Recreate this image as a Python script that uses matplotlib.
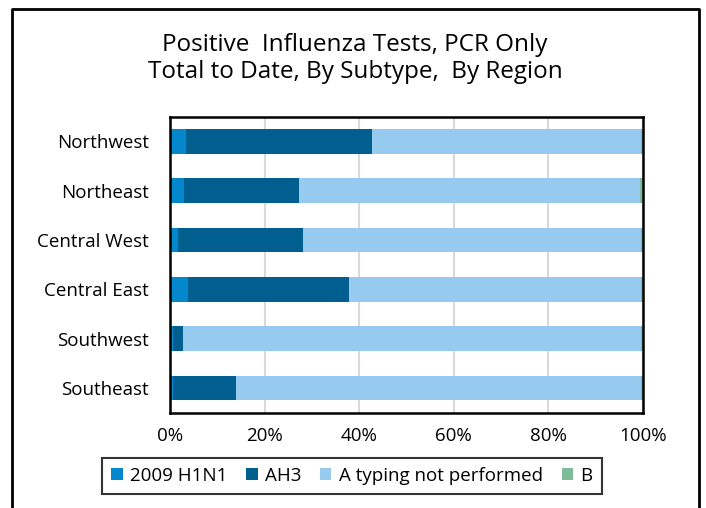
import matplotlib.pyplot as plt
import numpy as np
from matplotlib.lines import Line2D

# --- data (percent of positive PCR tests) ---
regions = ["Northwest", "Northeast", "Central West", "Central East", "Southwest", "Southeast"]
h1n1 = [3.3, 2.9, 1.6, 3.7, 0.6, 0.6]
ah3 = [39.4, 24.3, 26.5, 34.2, 2.2, 13.4]
a_not_typed = [56.9, 72.2, 71.5, 61.7, 96.8, 85.6]
b = [0.4, 0.6, 0.4, 0.4, 0.4, 0.4]

series_labels = ["2009 H1N1", "AH3", "A typing not performed", "B"]
colors = ["#0587CE", "#005F8F", "#96CBEF", "#7DBB9B"]

plt.rcParams["font.family"] = ["Open Sans", "DejaVu Sans"]

fig = plt.figure(figsize=(7.06, 5.08), dpi=100)
ax = fig.add_axes([170 / 706, 1 - 413 / 508, 473 / 706, 296 / 508])

y = np.arange(len(regions))[::-1]
left = np.zeros(len(regions))
for vals, lab, col in zip([h1n1, ah3, a_not_typed, b], series_labels, colors):
    ax.barh(y, vals, 0.5, left=left, color=col, label=lab, linewidth=0)
    left += np.array(vals)

ax.set_xlim(0, 100)
ax.set_ylim(-0.51, 5.49)
ax.set_xticks([0, 20, 40, 60, 80, 100])
ax.set_xticklabels(["0%", "20%", "40%", "60%", "80%", "100%"], fontsize=13.5)
ax.set_yticks(y)
ax.set_yticklabels(regions, fontsize=13.5)
ax.tick_params(length=0)
ax.tick_params(axis="y", pad=15)
ax.tick_params(axis="x", pad=10)
ax.grid(axis="x", color="#d9d9d9", linewidth=1.5)
ax.set_axisbelow(True)
for s in ax.spines.values():
    s.set_linewidth(1.8)
    s.set_color("black")

fig.text(0.503, 1 - 45 / 508, "Positive  Influenza Tests, PCR Only", ha="center", va="center", fontsize=17.5)
fig.text(0.503, 1 - 72 / 508, "Total to Date, By Subtype,  By Region", ha="center", va="center", fontsize=17.5)

leg = fig.legend(loc="center", bbox_to_anchor=(352 / 706, 1 - 476 / 508), ncol=4,
                 fontsize=13.5, frameon=True, fancybox=False, handlelength=0.6,
                 handleheight=0.6, handletextpad=0.4, columnspacing=1.0,
                 borderpad=0.5)
leg.get_frame().set_edgecolor("black")
leg.get_frame().set_linewidth(1.5)

# outer chart border (left, top, right)
bx0, bx1, by1 = 12 / 706, 699 / 706, 1 - 9 / 508
fig.add_artist(Line2D([bx0, bx0, bx1, bx1], [0, by1, by1, 0], color="black",
                      linewidth=2, transform=fig.transFigure))

fig.savefig("out.png", dpi=100)
